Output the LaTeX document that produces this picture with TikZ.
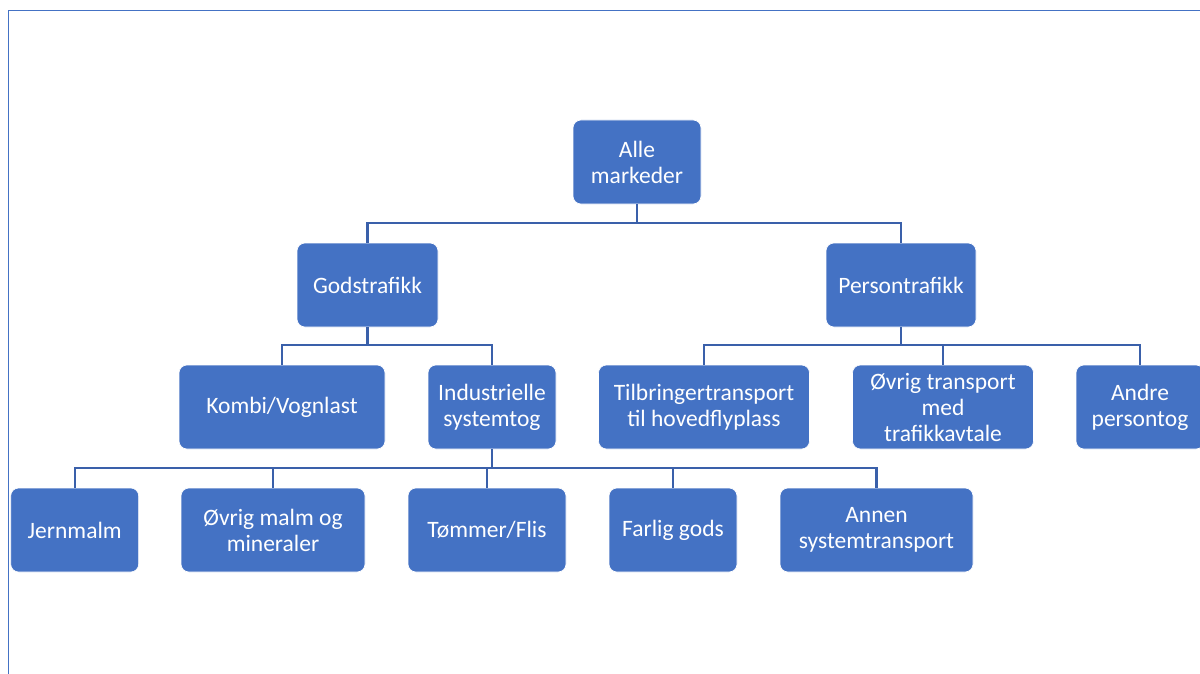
\documentclass[tikz,border=0pt]{standalone}
\usepackage{fontspec}
\setmainfont{Carlito}
\definecolor{boxblue}{RGB}{68,114,196}
\definecolor{lineblue}{RGB}{58,96,170}
\tikzset{box/.style={rectangle,rounded corners=8pt,fill=boxblue,draw=white,line width=0.6pt,
  text=white,align=center,minimum height=84pt,inner sep=2pt,font=\fontsize{23.5}{26}\selectfont}}
\tikzset{up/.style={draw=lineblue,line width=2.4pt,
  to path={(\tikztostart.north) -- ++(0,-19.5) -| (\tikztotarget.south)}}}

\begin{document}
\begin{tikzpicture}[x=1pt,y=-1pt]
  \useasboundingbox (0,0) rectangle (1200,674);
  \draw[boxblue,line width=1.5pt] (8.7,674) -- (8.7,10.3) -- (1200,10.3);
  % top
  \node[box,minimum width=128pt] (alle) at (637,162) {Alle\\markeder};
  % level 1
  \node[box,minimum width=141pt] (gods) at (367.5,285) {Godstrafikk}
    edge [up] (alle);
  \node[box,minimum width=150pt] (person) at (901,285) {Persontrafikk}
    edge [up] (alle);
  % level 2
  \node[box,minimum width=206pt] (kombi) at (282,407) {Kombi/Vognlast}
    edge [up] (gods);
  \node[box,minimum width=128pt] (indus) at (492,407) {Industrielle\\systemtog}
    edge [up] (gods);
  \node[box,minimum width=211pt] (tilbr) at (704,407) {Tilbringertransport\\til hovedflyplass}
    edge [up] (person);
  \node[box,minimum width=181pt] (ovrtr) at (943,407) {Øvrig transport\\med\\trafikkavtale}
    edge [up] (person);
  \node[box,minimum width=128pt] (andre) at (1140,407) {Andre\\persontog}
    edge [up] (person);
  % level 3
  \node[box,minimum width=128pt] (jern) at (74.7,530) {Jernmalm}
    edge [up] (indus);
  \node[box,minimum width=184pt] (malm) at (273,530) {Øvrig malm og\\mineraler}
    edge [up] (indus);
  \node[box,minimum width=158pt] (tommer) at (487,530) {Tømmer/Flis}
    edge [up] (indus);
  \node[box,minimum width=128pt] (farlig) at (673,530) {Farlig gods}
    edge [up] (indus);
  \node[box,minimum width=193pt] (annen) at (876.5,530) {Annen\\systemtransport}
    edge [up] (indus);
\end{tikzpicture}
\end{document}
